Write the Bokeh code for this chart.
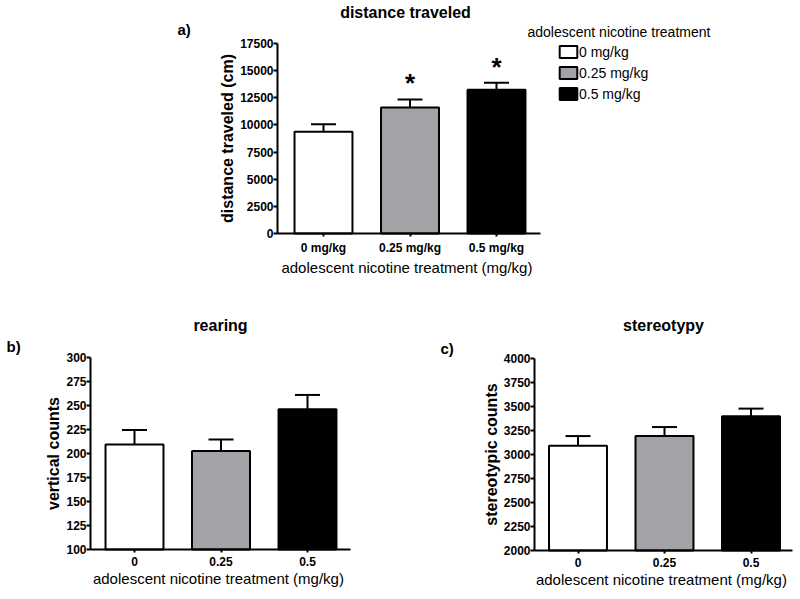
from bokeh.plotting import figure
from bokeh.models import (Range1d, FixedTicker, Legend, LegendItem, LinearAxis,
                          Whisker, TeeHead, ColumnDataSource)
from bokeh.embed import file_html
from bokeh.resources import INLINE
from bokeh.core.properties import value

FONT = "Liberation Sans"
W, H = 800, 599

# ---- data ----
doses = ["0 mg/kg", "0.25 mg/kg", "0.5 mg/kg"]
dose_short = ["0", "0.25", "0.5"]
bar_colors = ["#ffffff", "#a3a3a7", "#000000"]

dist_mean = [9370, 11600, 13240]
dist_sem = [690, 745, 650]
dist_sig = ["", "*", "*"]
dist_ticks = [0, 2500, 5000, 7500, 10000, 12500, 15000, 17500]

rear_mean = [209.5, 202.5, 246]
rear_sem = [15, 12, 15]
rear_ticks = [100, 125, 150, 175, 200, 225, 250, 275, 300]

stereo_mean = [3092, 3192, 3398]
stereo_sem = [100, 94, 80]
stereo_ticks = [2000, 2250, 2500, 2750, 3000, 3250, 3500, 3750, 4000]

titles = ["distance traveled", "rearing", "stereotypy"]
tags = ["a)", "b)", "c)"]
y_titles = ["distance traveled (cm)", "vertical counts", "stereotypic counts"]
legend_title = "adolescent nicotine treatment"
x_title = "adolescent nicotine treatment  (mg/kg)"

# ---- layout geometry (page pixels) ----
# name: (first bar centre, bar pitch, axis left, axis right, y px of axis min, y px of axis max)
geom = {
    "a": (323, 86.5, 277, 540, 233, 43),
    "b": (134, 86.5, 90, 350, 549, 357),
    "c": (577.5, 86.5, 534, 792, 550, 358),
}

p = figure(width=W, height=H, x_range=Range1d(0, W), y_range=Range1d(H, 0),
           x_axis_type=None, y_axis_type=None, output_backend="svg",
           toolbar_location=None, min_border=0, title=None)
p.outline_line_color = None
p.grid.visible = False
p.background_fill_color = "white"
p.border_fill_color = "white"


def style_axis(ax):
    ax.axis_line_width = 2
    ax.axis_line_color = "black"
    ax.major_tick_line_width = 2
    ax.major_tick_line_color = "black"
    ax.major_tick_in = 0
    ax.minor_tick_line_color = None
    ax.major_label_text_font = FONT
    ax.major_label_text_font_style = "bold"
    ax.major_label_text_font_size = "12px"
    ax.major_label_text_color = "black"
    ax.axis_label_text_font = FONT
    ax.axis_label_text_color = "black"


def panel(name, cats, means, sems, ticks, ylabel, sig=None):
    c0, pitch, axl, axr, py0, py1 = geom[name]
    ymin, ymax = ticks[0], ticks[-1]
    k = (ymax - ymin) / (py0 - py1)            # data units per pixel
    xr = Range1d((0 - c0) / pitch, (W - c0) / pitch)
    yr = Range1d(ymin - (H - py0) * k, ymax + py1 * k)
    xn, yn = "x" + name, "y" + name
    p.extra_x_ranges[xn] = xr
    p.extra_y_ranges[yn] = yr

    idx = list(range(len(cats)))
    upper = [m + s for m, s in zip(means, sems)]
    src = ColumnDataSource(dict(x=idx, mean=means, upper=upper, color=bar_colors,
                                sig=sig if sig else [""] * len(cats)))
    w = Whisker(base="x", upper="upper", lower="mean", source=src,
                x_range_name=xn, y_range_name=yn,
                upper_head=TeeHead(size=25, line_width=2, line_color="black"),
                lower_head=None, line_width=2, line_color="black", level="underlay")
    p.add_layout(w)
    r = p.vbar(x="x", top="mean", bottom=ymin, width=0.67, source=src,
               x_range_name=xn, y_range_name=yn,
               fill_color="color", line_color="black", line_width=2)
    if sig:
        p.text(x="x", y="upper", text="sig", source=src, x_range_name=xn, y_range_name=yn,
               text_align="center", text_baseline="middle", y_offset=-16,
               text_font=value(FONT), text_font_size="26px", text_font_style="bold",
               text_color="black")

    x_left = (axl - c0) / pitch
    x_right = (axr - c0) / pitch
    yax = LinearAxis(x_range_name=xn, y_range_name=yn, fixed_location=x_left,
                     bounds=(ymin, ymax), ticker=FixedTicker(ticks=ticks),
                     axis_label=ylabel)
    style_axis(yax)
    yax.major_tick_out = 4
    yax.major_label_standoff = 0
    yax.axis_label_text_font_style = "bold"
    yax.axis_label_text_font_size = "16px"
    yax.axis_label_standoff = 1
    p.add_layout(yax, "left")

    xax = LinearAxis(x_range_name=xn, y_range_name=yn, fixed_location=ymin,
                     bounds=(x_left, x_right), ticker=FixedTicker(ticks=idx),
                     major_label_overrides={i: c for i, c in zip(idx, cats)},
                     axis_label=x_title)
    style_axis(xax)
    xax.major_tick_out = 3
    xax.major_label_standoff = 4
    xax.axis_label_text_font_style = "normal"
    xax.axis_label_text_font_size = "15px"
    xax.axis_label_standoff = 1
    p.add_layout(xax, "below")
    return r


ra = panel("a", doses, dist_mean, dist_sem, dist_ticks, y_titles[0], sig=dist_sig)
panel("b", dose_short, rear_mean, rear_sem, rear_ticks, y_titles[1])
panel("c", dose_short, stereo_mean, stereo_sem, stereo_ticks, y_titles[2])


def ptext(x, y, txt, size, bold, align):
    p.text(x=[x], y=[y], text=[txt], text_font=value(FONT), text_font_size=size,
           text_font_style="bold" if bold else "normal", text_align=align,
           text_baseline="middle", text_color="black")


ptext(405, 12, titles[0], "16px", True, "center")
ptext(220, 325, titles[1], "16px", True, "center")
ptext(663, 325, titles[2], "16px", True, "center")
ptext(177, 29, tags[0], "15px", True, "left")
ptext(6, 346, tags[1], "15px", True, "left")
ptext(440, 348, tags[2], "15px", True, "left")
ptext(527, 31, legend_title, "14px", False, "left")

legend = Legend(items=[LegendItem(label=doses[i], renderers=[ra], index=i) for i in range(3)],
                location=(557, H - 101.5), glyph_width=22, glyph_height=15,
                label_height=15, spacing=5, label_standoff=0, padding=0, margin=0,
                border_line_color=None, background_fill_alpha=0,
                label_text_font=FONT, label_text_font_size="14px",
                label_text_color="black")
p.add_layout(legend, "center")

open("out.html", "w").write(file_html(p, INLINE))
